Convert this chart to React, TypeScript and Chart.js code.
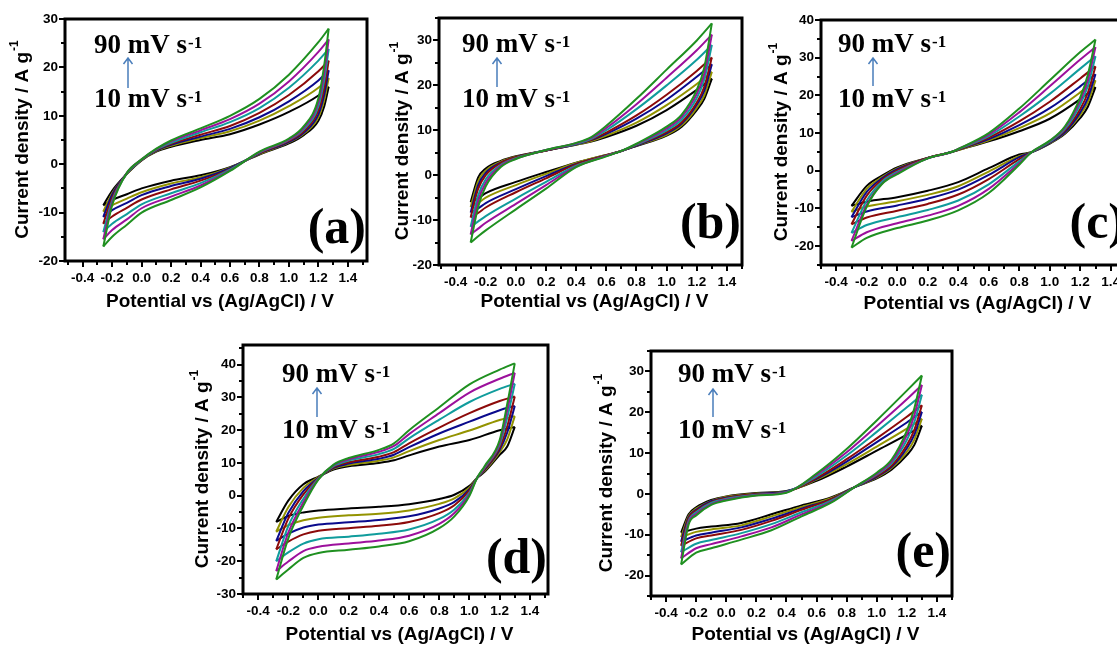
import React, { useEffect, useRef } from 'react';
import { Chart, registerables } from 'chart.js';

Chart.register(...registerables);

// ---------------- data ----------------
const SCAN_RATES = ['10', '20', '30', '40', '50', '70', '90'];
const CURVE_COLORS = ['#000000', '#939300', '#0a0a8c', '#8c0a0a', '#109c9c', '#9c109c', '#1f9020'];
const X_TICKS = [-0.4, -0.2, 0, 0.2, 0.4, 0.6, 0.8, 1.0, 1.2, 1.4];

const Y_TICKS_A = [-20, -10, 0, 10, 20, 30];
const Y_TICKS_B = [-20, -10, 0, 10, 20, 30];
const Y_TICKS_C = [-20, -10, 0, 10, 20, 30, 40];
const Y_TICKS_D = [-30, -20, -10, 0, 10, 20, 30, 40];
const Y_TICKS_E = [-20, -10, 0, 10, 20, 30];

// panel (a)
const X_FWD_A = [-0.26, -0.2, -0.1, 0.0, 0.1, 0.2, 0.4, 0.6, 0.8, 1.0, 1.2, 1.27];
const A_FWD = [
  [-8.5, -5.5, -2.0, 0.8, 2.6, 3.6, 5.0, 6.2, 8.2, 10.8, 14.2, 16.0],
  [-9.8, -6.0, -2.0, 0.8, 2.7, 3.8, 5.4, 6.8, 9.0, 12.0, 15.8, 17.8],
  [-10.9, -6.3, -1.9, 0.9, 2.8, 4.0, 5.7, 7.3, 9.7, 13.0, 17.3, 19.4],
  [-12.3, -6.9, -1.9, 0.9, 2.9, 4.2, 6.1, 7.9, 10.6, 14.3, 19.2, 21.4],
  [-14.0, -7.5, -1.9, 0.9, 3.0, 4.4, 6.6, 8.7, 11.6, 15.8, 21.4, 23.8],
  [-15.5, -8.0, -1.8, 1.0, 3.1, 4.7, 7.0, 9.3, 12.5, 17.1, 23.2, 25.8],
  [-17.0, -8.5, -1.8, 1.0, 3.2, 4.9, 7.4, 10.0, 13.5, 18.5, 25.2, 28.0],
];
const X_REV_A = [1.27, 1.24, 1.2, 1.1, 1.0, 0.8, 0.6, 0.4, 0.2, 0.0, -0.1, -0.2, -0.26];
const A_REV = [
  [16.0, 12.0, 9.0, 6.0, 4.3, 2.0, -0.6, -2.3, -3.4, -5.0, -6.2, -7.4, -8.5],
  [17.8, 13.3, 9.7, 6.3, 4.5, 2.1, -0.7, -2.7, -4.0, -5.8, -7.1, -8.5, -9.8],
  [19.4, 14.4, 10.3, 6.5, 4.6, 2.2, -0.8, -3.0, -4.5, -6.4, -8.0, -9.5, -10.9],
  [21.4, 15.8, 11.1, 6.8, 4.8, 2.3, -1.0, -3.4, -5.2, -7.3, -9.0, -10.8, -12.3],
  [23.8, 17.5, 12.0, 7.2, 5.0, 2.4, -1.1, -3.9, -6.0, -8.3, -10.3, -12.3, -14.0],
  [25.8, 19.0, 12.8, 7.5, 5.1, 2.5, -1.3, -4.4, -6.7, -9.1, -11.4, -13.6, -15.5],
  [28.0, 20.5, 13.6, 7.8, 5.3, 2.6, -1.4, -4.8, -7.4, -10.0, -12.5, -15.0, -17.0],
];

// panel (b)
const X_FWD_B = [-0.3, -0.25, -0.2, -0.1, 0.0, 0.2, 0.4, 0.5, 0.6, 0.8, 1.0, 1.2, 1.3];
const B_FWD = [
  [-6.0, -0.5, 1.5, 3.2, 4.2, 5.5, 6.8, 7.5, 8.5, 11.0, 14.5, 19.0, 21.5],
  [-7.1, -1.3, 1.0, 3.0, 4.1, 5.5, 6.8, 7.6, 8.8, 11.7, 15.6, 20.3, 23.0],
  [-8.3, -2.2, 0.5, 2.8, 4.0, 5.5, 6.9, 7.8, 9.2, 12.6, 16.8, 21.9, 24.7],
  [-9.4, -3.0, 0.0, 2.7, 4.0, 5.5, 7.0, 7.9, 9.5, 13.3, 17.9, 23.2, 26.2],
  [-11.5, -4.5, -0.9, 2.3, 3.8, 5.6, 7.0, 8.1, 10.0, 14.7, 20.0, 25.7, 29.0],
  [-13.2, -5.7, -1.7, 2.1, 3.7, 5.6, 7.1, 8.3, 10.5, 15.8, 21.7, 27.8, 31.3],
  [-15.0, -7.0, -2.5, 1.8, 3.6, 5.6, 7.2, 8.5, 11.0, 17.0, 23.5, 30.0, 33.8],
];
const X_REV_B = [1.3, 1.25, 1.2, 1.1, 1.0, 0.8, 0.7, 0.6, 0.4, 0.2, 0.0, -0.2, -0.25, -0.3];
const B_REV = [
  [21.5, 17.0, 14.5, 10.8, 8.8, 6.5, 5.4, 4.5, 2.8, 0.7, -1.5, -4.0, -5.2, -6.0],
  [23.0, 17.8, 15.0, 11.1, 9.0, 6.6, 5.4, 4.5, 2.7, 0.3, -2.2, -5.0, -6.2, -7.1],
  [24.7, 18.8, 15.7, 11.5, 9.3, 6.6, 5.4, 4.4, 2.5, -0.2, -3.1, -6.2, -7.4, -8.3],
  [26.2, 19.7, 16.2, 11.8, 9.6, 6.7, 5.4, 4.4, 2.4, -0.7, -3.8, -7.2, -8.4, -9.4],
  [29.0, 21.3, 17.2, 12.4, 10.0, 6.8, 5.4, 4.3, 2.1, -1.5, -5.2, -9.1, -10.3, -11.5],
  [31.3, 22.6, 18.1, 13.0, 10.4, 6.9, 5.4, 4.3, 1.9, -2.2, -6.4, -10.6, -11.9, -13.2],
  [33.8, 24.0, 19.0, 13.5, 10.8, 7.0, 5.4, 4.2, 1.8, -3.0, -7.6, -12.3, -13.6, -15.0],
];

// panel (c)
const X_FWD_C = [-0.3, -0.2, -0.1, 0.0, 0.2, 0.35, 0.4, 0.6, 0.8, 1.0, 1.2, 1.3];
const C_FWD = [
  [-9.3, -4.0, -1.3, 0.9, 3.4, 4.9, 5.5, 7.8, 10.5, 13.8, 19.0, 22.2],
  [-10.9, -4.8, -1.7, 0.6, 3.4, 4.9, 5.5, 8.1, 11.3, 15.2, 20.8, 24.0],
  [-12.3, -5.6, -2.0, 0.4, 3.4, 4.9, 5.6, 8.4, 12.1, 16.6, 22.4, 25.6],
  [-14.2, -6.6, -2.4, 0.1, 3.4, 4.9, 5.6, 8.8, 13.1, 18.3, 24.5, 27.7],
  [-16.5, -7.9, -2.9, -0.3, 3.3, 4.9, 5.7, 9.2, 14.4, 20.4, 27.1, 30.4],
  [-18.6, -9.0, -3.4, -0.6, 3.3, 4.9, 5.8, 9.6, 15.5, 22.4, 29.5, 32.8],
  [-20.4, -9.5, -3.5, -0.9, 3.3, 4.9, 5.8, 10.0, 16.5, 24.0, 31.5, 34.8],
];
const X_REV_C = [1.3, 1.25, 1.2, 1.1, 1.0, 0.88, 0.8, 0.6, 0.4, 0.2, 0.0, -0.2, -0.3];
const C_REV = [
  [22.2, 17.0, 14.0, 9.8, 7.2, 4.9, 4.3, 0.7, -3.0, -5.3, -7.0, -8.2, -9.3],
  [24.0, 18.2, 14.8, 10.1, 7.3, 4.9, 3.9, -0.2, -4.1, -6.4, -8.1, -9.5, -10.9],
  [25.6, 19.3, 15.5, 10.3, 7.4, 4.9, 3.6, -1.1, -5.0, -7.4, -9.2, -10.8, -12.3],
  [27.7, 20.7, 16.4, 10.7, 7.6, 4.9, 3.1, -2.2, -6.3, -8.8, -10.6, -12.4, -14.2],
  [30.4, 22.5, 17.6, 11.1, 7.7, 4.9, 2.5, -3.6, -7.9, -10.4, -12.3, -14.4, -16.5],
  [32.8, 24.1, 18.6, 11.5, 7.9, 4.9, 2.0, -4.8, -9.3, -11.9, -13.9, -16.3, -18.6],
  [34.8, 25.5, 19.5, 11.8, 8.0, 4.9, 1.6, -5.9, -10.5, -13.2, -15.2, -17.8, -20.4],
];

// panel (d)
const X_FWD_D = [-0.28, -0.2, -0.1, 0.0, 0.1, 0.2, 0.4, 0.5, 0.6, 0.8, 1.0, 1.2, 1.3];
const D_FWD = [
  [-8.0, -1.5, 3.5, 5.8, 8.0, 9.0, 10.0, 10.8, 12.3, 15.0, 17.0, 20.0, 21.0],
  [-11.0, -3.5, 2.4, 5.7, 8.3, 9.4, 10.7, 11.7, 13.6, 17.0, 19.9, 23.1, 24.3],
  [-13.8, -5.3, 1.4, 5.5, 8.5, 9.8, 11.3, 12.5, 14.8, 19.0, 22.6, 26.1, 27.4],
  [-16.4, -7.0, 0.4, 5.4, 8.7, 10.2, 11.9, 13.3, 16.0, 20.8, 25.2, 28.9, 30.3],
  [-20.0, -9.3, -0.9, 5.3, 9.0, 10.7, 12.7, 14.3, 17.5, 23.2, 28.6, 32.6, 34.2],
  [-23.0, -11.3, -2.0, 5.1, 9.3, 11.1, 13.4, 15.2, 18.8, 25.2, 31.5, 35.7, 37.5],
  [-25.6, -13.0, -3.0, 5.0, 9.5, 11.5, 14.0, 16.0, 20.0, 27.0, 34.0, 38.5, 40.4],
];
const X_REV_D = [1.3, 1.25, 1.2, 1.1, 1.05, 1.0, 0.9, 0.8, 0.6, 0.4, 0.2, 0.0, -0.1, -0.2, -0.28];
const D_REV = [
  [21.0, 15.0, 12.5, 7.3, 5.4, 3.0, 0.3, -1.0, -2.6, -3.4, -3.9, -4.5, -5.1, -6.2, -8.0],
  [24.3, 17.2, 13.3, 7.6, 5.4, 2.5, -0.8, -2.5, -4.5, -5.5, -6.0, -6.7, -7.5, -9.0, -11.0],
  [27.4, 19.3, 14.0, 7.9, 5.4, 2.0, -1.9, -3.9, -6.3, -7.4, -8.1, -8.8, -9.7, -11.6, -13.8],
  [30.3, 21.2, 14.7, 8.1, 5.4, 1.6, -2.9, -5.3, -8.0, -9.2, -9.9, -10.7, -11.8, -14.0, -16.4],
  [34.2, 23.8, 15.6, 8.5, 5.4, 1.0, -4.2, -7.1, -10.3, -11.6, -12.5, -13.3, -14.6, -17.3, -20.0],
  [37.5, 26.1, 16.3, 8.7, 5.4, 0.5, -5.3, -8.6, -12.2, -13.7, -14.6, -15.6, -16.9, -20.1, -23.0],
  [40.4, 28.0, 17.0, 9.0, 5.4, 0.0, -6.3, -9.9, -13.9, -15.5, -16.5, -17.5, -19.0, -22.5, -25.6],
];

// panel (e)
const X_FWD_E = [-0.3, -0.25, -0.2, -0.1, 0.0, 0.2, 0.4, 0.6, 0.8, 1.0, 1.2, 1.3];
const E_FWD = [
  [-9.5, -5.0, -3.3, -1.5, -0.6, 0.2, 0.7, 3.2, 6.7, 10.6, 14.5, 16.7],
  [-10.6, -5.4, -3.6, -1.7, -0.7, 0.1, 0.6, 3.5, 7.3, 11.6, 16.0, 18.4],
  [-11.7, -5.7, -3.9, -1.8, -0.9, 0.0, 0.6, 3.7, 7.9, 12.7, 17.5, 20.1],
  [-12.7, -6.0, -4.1, -2.0, -1.0, -0.1, 0.5, 3.9, 8.5, 13.6, 18.9, 21.7],
  [-14.3, -6.6, -4.5, -2.2, -1.2, -0.2, 0.5, 4.3, 9.4, 15.2, 21.2, 24.3],
  [-15.8, -7.0, -4.9, -2.5, -1.4, -0.3, 0.4, 4.7, 10.2, 16.6, 23.2, 26.7],
  [-17.3, -7.5, -5.3, -2.7, -1.6, -0.4, 0.3, 5.0, 11.0, 18.0, 25.3, 29.0],
];
const X_REV_E = [1.3, 1.25, 1.2, 1.1, 1.0, 0.85, 0.7, 0.5, 0.3, 0.1, -0.1, -0.2, -0.3];
const E_REV = [
  [16.7, 12.0, 9.5, 6.0, 3.8, 1.6, -0.8, -2.8, -5.0, -7.1, -8.0, -8.5, -9.5],
  [18.4, 13.3, 10.3, 6.4, 4.0, 1.6, -1.0, -3.2, -5.5, -7.7, -8.7, -9.3, -10.6],
  [20.1, 14.5, 11.2, 6.7, 4.2, 1.6, -1.2, -3.6, -6.1, -8.2, -9.5, -10.2, -11.7],
  [21.7, 15.7, 12.0, 7.0, 4.4, 1.6, -1.3, -3.9, -6.6, -8.8, -10.2, -10.9, -12.7],
  [24.3, 17.6, 13.2, 7.6, 4.7, 1.6, -1.6, -4.5, -7.4, -9.6, -11.3, -12.2, -14.3],
  [26.7, 19.3, 14.4, 8.0, 4.9, 1.6, -1.9, -5.0, -8.2, -10.4, -12.3, -13.3, -15.8],
  [29.0, 21.0, 15.5, 8.5, 5.2, 1.6, -2.1, -5.5, -8.9, -11.2, -13.3, -14.4, -17.3],
];

// ---------------- layout (page pixels) ----------------
const PANELS: any[] = [
  { id: 'a', left: 0, top: 0, w: 380, h: 320, box: { l: 65, t: 19, r: 367, b: 261 }, xMin: -0.52, xMax: 1.53, yMin: -20, yMax: 30, yTicks: Y_TICKS_A,
    xFwd: X_FWD_A, fwd: A_FWD, xRev: X_REV_A, rev: A_REV,
    ann: { tx: 29, b90: 34, b10: 88, ax: 63, at: 39, ab: 69, ldy: 18 }, yTitleX: 23, xTitleY: 302 },
  { id: 'b', left: 380, top: 0, w: 375, h: 320, box: { l: 439, t: 18, r: 742, b: 265 }, xMin: -0.51, xMax: 1.5, yMin: -20, yMax: 35, yTicks: Y_TICKS_B,
    xFwd: X_FWD_B, fwd: B_FWD, xRev: X_REV_B, rev: B_REV,
    ann: { tx: 23, b90: 34, b10: 89, ax: 58, at: 40, ab: 69, ldy: 27 }, yTitleX: 403, xTitleY: 302 },
  { id: 'c', left: 755, top: 0, w: 385, h: 320, box: { l: 821, t: 20, r: 1126, b: 265 }, xMin: -0.5, xMax: 1.5, yMin: -25, yMax: 40, yTicks: Y_TICKS_C,
    xFwd: X_FWD_C, fwd: C_FWD, xRev: X_REV_C, rev: C_REV,
    ann: { tx: 17, b90: 32, b10: 87, ax: 52, at: 38, ab: 66, ldy: 27 }, yTitleX: 782, xTitleY: 304 },
  { id: 'd', left: 180, top: 320, w: 380, h: 329, box: { l: 243, t: 345, r: 548, b: 594 }, xMin: -0.5, xMax: 1.52, yMin: -30, yMax: 46, yTicks: Y_TICKS_D,
    xFwd: X_FWD_D, fwd: D_FWD, xRev: X_REV_D, rev: D_REV,
    ann: { tx: 39, b90: 37, b10: 93, ax: 74, at: 43, ab: 72, ldy: 21 }, yTitleX: 203, xTitleY: 635 },
  { id: 'e', left: 580, top: 320, w: 390, h: 329, box: { l: 651, t: 351, r: 952, b: 596 }, xMin: -0.5, xMax: 1.5, yMin: -25, yMax: 35, yTicks: Y_TICKS_E,
    xFwd: X_FWD_E, fwd: E_FWD, xRev: X_REV_E, rev: E_REV,
    ann: { tx: 27, b90: 31, b10: 87, ax: 62, at: 38, ab: 66, ldy: 29 }, yTitleX: 607, xTitleY: 635 },
];

const SANS = '"Liberation Sans", Arial, sans-serif';
const SERIF = '"Liberation Serif", "Times New Roman", serif';

function drawRateText(ctx: CanvasRenderingContext2D, x: number, y: number, main: string) {
  ctx.font = `bold 27px ${SERIF}`;
  ctx.textAlign = 'left';
  ctx.textBaseline = 'alphabetic';
  ctx.fillStyle = '#000';
  ctx.fillText(main, x, y);
  const w = ctx.measureText(main).width;
  ctx.font = `bold 17px ${SERIF}`;
  ctx.fillText('-1', x + w + 1, y - 5);
}

function makeDecor(p: any) {
  return {
    id: 'decor_' + p.id,
    afterDraw(chart: any) {
      const ctx: CanvasRenderingContext2D = chart.ctx;
      const a = chart.chartArea;
      const xs = chart.scales.x;
      const ys = chart.scales.y;
      ctx.save();
      ctx.strokeStyle = '#000';
      ctx.lineCap = 'butt';
      // ticks
      ctx.lineWidth = 2;
      ctx.beginPath();
      for (let k = -6; k <= 16; k++) {
        const v = k / 10;
        if (v < p.xMin - 1e-9 || v > p.xMax + 1e-9) continue;
        const px = Math.round(xs.getPixelForValue(v));
        const len = k % 2 === 0 ? 6 : 4;
        ctx.moveTo(px, a.bottom);
        ctx.lineTo(px, a.bottom + len);
      }
      for (let v = -40; v <= 50; v += 5) {
        if (v < p.yMin - 1e-9 || v > p.yMax + 1e-9) continue;
        const py = Math.round(ys.getPixelForValue(v));
        const len = v % 10 === 0 ? 6 : 4;
        ctx.moveTo(a.left, py);
        ctx.lineTo(a.left - len, py);
      }
      ctx.stroke();
      // frame
      ctx.lineWidth = 3;
      ctx.strokeRect(a.left, a.top, a.right - a.left, a.bottom - a.top);

      // axis titles
      ctx.fillStyle = '#000';
      ctx.font = `bold 19px ${SANS}`;
      ctx.textAlign = 'center';
      ctx.textBaseline = 'middle';
      ctx.fillText('Potential vs (Ag/AgCl) / V', (a.left + a.right) / 2 + 4, p.xTitleY - p.top);

      ctx.save();
      ctx.translate(p.yTitleX - p.left, (a.top + a.bottom) / 2);
      ctx.rotate(-Math.PI / 2);
      const main = 'Current density / A g';
      ctx.font = `bold 19px ${SANS}`;
      const w1 = ctx.measureText(main).width;
      ctx.font = `bold 12px ${SANS}`;
      const w2 = ctx.measureText('-1').width;
      const sx = -(w1 + w2) / 2;
      ctx.textAlign = 'left';
      ctx.font = `bold 19px ${SANS}`;
      ctx.fillText(main, sx, 0);
      ctx.font = `bold 12px ${SANS}`;
      ctx.fillText('-1', sx + w1 + 1, -8);
      ctx.restore();

      // scan-rate annotation
      const an = p.ann;
      drawRateText(ctx, a.left + an.tx, a.top + an.b90, '90 mV s');
      drawRateText(ctx, a.left + an.tx, a.top + an.b10, '10 mV s');
      ctx.strokeStyle = '#4a7ebb';
      ctx.lineWidth = 1.5;
      const ax = a.left + an.ax;
      ctx.beginPath();
      ctx.moveTo(ax, a.top + an.ab);
      ctx.lineTo(ax, a.top + an.at);
      ctx.moveTo(ax - 4.5, a.top + an.at + 6);
      ctx.lineTo(ax, a.top + an.at);
      ctx.lineTo(ax + 4.5, a.top + an.at + 6);
      ctx.stroke();

      // panel label
      ctx.fillStyle = '#000';
      ctx.font = `bold 50px ${SERIF}`;
      ctx.textAlign = 'right';
      ctx.textBaseline = 'alphabetic';
      ctx.fillText(`(${p.id})`, a.right - 1, a.bottom - an.ldy);
      ctx.restore();
    },
  };
}

function Panel({ p }: { p: any }) {
  const ref = useRef<HTMLCanvasElement | null>(null);
  useEffect(() => {
    const datasets: any[] = [];
    // Chart.js paints the first dataset last (on top): list the fastest scan (green) first
    for (let i = p.fwd.length - 1; i >= 0; i--) {
      const common = {
        borderColor: CURVE_COLORS[i],
        backgroundColor: CURVE_COLORS[i],
        borderWidth: 2,
        pointRadius: 0,
        showLine: true,
        fill: false,
        cubicInterpolationMode: 'monotone',
      };
      datasets.push({ ...common, label: `${SCAN_RATES[i]} mV/s anodic`, data: p.xFwd.map((x: number, j: number) => ({ x, y: p.fwd[i][j] })) });
      datasets.push({ ...common, label: `${SCAN_RATES[i]} mV/s cathodic`, data: p.xRev.map((x: number, j: number) => ({ x, y: p.rev[i][j] })) });
    }
    const box = p.box;
    const yAxisW = box.l - p.left;
    const xAxisH = p.top + p.h - box.b;
    const tickFont = { family: SANS, size: 13.5, weight: 'bold' as const };
    const chart = new Chart(ref.current as HTMLCanvasElement, {
      type: 'scatter',
      data: { datasets },
      options: {
        animation: false,
        responsive: false,
        maintainAspectRatio: false,
        layout: { padding: { left: 0, top: box.t - p.top, right: p.left + p.w - box.r, bottom: 0 } },
        plugins: { legend: { display: false }, tooltip: { enabled: false }, title: { display: false } },
        scales: {
          x: {
            type: 'linear',
            min: p.xMin,
            max: p.xMax,
            afterBuildTicks: (s: any) => { s.ticks = X_TICKS.map((v) => ({ value: v })); },
            afterFit: (s: any) => { s.height = xAxisH; },
            grid: { display: false, drawTicks: false },
            border: { display: false },
            ticks: { color: '#000', font: tickFont, padding: 9, maxRotation: 0, autoSkip: false, callback: (v: any) => Number(v).toFixed(1) },
          },
          y: {
            type: 'linear',
            min: p.yMin,
            max: p.yMax,
            afterBuildTicks: (s: any) => { s.ticks = p.yTicks.map((v: number) => ({ value: v })); },
            afterFit: (s: any) => { s.width = yAxisW; },
            grid: { display: false, drawTicks: false },
            border: { display: false },
            ticks: { color: '#000', font: tickFont, padding: 7, autoSkip: false, callback: (v: any) => String(v) },
          },
        },
      } as any,
      plugins: [makeDecor(p)],
    });
    return () => chart.destroy();
  }, [p]);
  return (
    <div style={{ position: 'absolute', left: p.left, top: p.top, width: p.w, height: p.h }}>
      <canvas ref={ref} width={p.w} height={p.h} style={{ display: 'block', width: p.w, height: p.h }} />
    </div>
  );
}

export default function App() {
  return (
    <div style={{ position: 'absolute', left: 0, top: 0, width: 1117, height: 649, overflow: 'hidden', background: '#fff' }}>
      {PANELS.map((p) => (
        <Panel key={p.id} p={p} />
      ))}
    </div>
  );
}
